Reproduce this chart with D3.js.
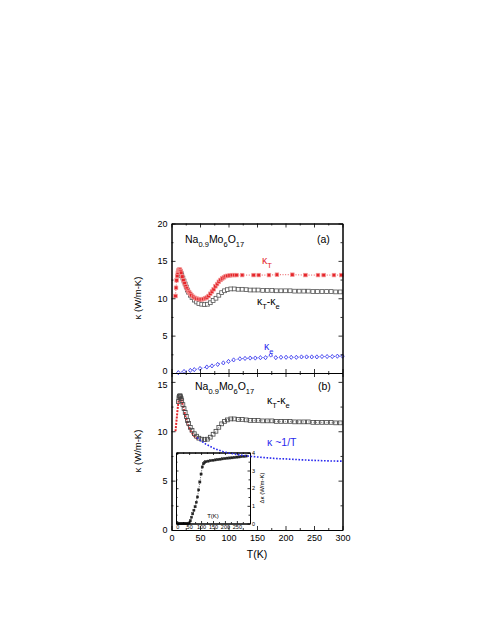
<!DOCTYPE html>
<html><head><meta charset="utf-8">
<script src="https://cdn.jsdelivr.net/npm/d3@7/dist/d3.min.js"></script>
<style>
body{margin:0;background:#fff}
svg{display:block}
text{font-family:"Liberation Sans",Arial,sans-serif;fill:#000}
</style>
</head><body>
<script>
// ---------- DATA ----------
// Panel (a): total thermal conductivity kappa_T (red filled squares)
const tKT = [7,8,9,10,11,12,13,14,15,16,17,19,21,23,25,27,29,31,33,35,38,41,44,47,50,53,56,59,62,65,68,71,74,77,80,83,86,89,92,95,98,102,106,110,114,124,144,153,171,185,212,235,257,267,285,298];
const kT  = [10.3,11.4,12.4,13.0,13.4,13.7,13.8,13.85,13.8,13.6,13.4,12.9,12.4,12.0,11.6,11.3,11.0,10.8,10.6,10.4,10.2,10.05,9.95,9.9,9.85,9.85,9.9,10.0,10.1,10.3,10.6,10.9,11.2,11.6,11.9,12.2,12.45,12.65,12.8,12.95,13.0,13.05,13.1,13.1,13.1,13.1,13.1,13.1,13.1,13.15,13.15,13.1,13.1,13.1,13.1,13.1];
// kappa_T - kappa_e (black open squares), used in both panels
const tKL = [12,13,14,15,16,17,18,20,22,24,26,28,30,33,36,40,44,48,53,58,63,68,73,78,83,88,93,98,104,110,117,124,131,138,145,152,160,168,176,184,192,200,208,216,224,232,240,248,256,264,272,280,288,296];
const kL  = [13.0,13.4,13.55,13.6,13.5,13.3,13.1,12.7,12.3,11.9,11.5,11.1,10.8,10.4,10.1,9.75,9.5,9.3,9.2,9.15,9.2,9.4,9.7,10.0,10.4,10.75,11.0,11.15,11.25,11.25,11.2,11.2,11.15,11.1,11.1,11.1,11.05,11.05,11.05,11.0,11.0,11.0,11.0,10.95,10.95,10.95,10.95,10.9,10.9,10.9,10.9,10.9,10.85,10.85];
// electronic part kappa_e (blue open diamonds)
const tKe = [12,22,33,40,50,62,71,81,91,100,109,120,129,138,147,156,165,174,183,192,201,210,219,228,237,246,255,264,273,282,291,300];
const kE  = [0.05,0.2,0.35,0.45,0.6,0.8,0.95,1.15,1.35,1.55,1.75,1.9,1.95,2.0,2.0,2.05,2.05,2.4,2.05,2.1,2.1,2.1,2.1,2.15,2.15,2.15,2.15,2.2,2.2,2.2,2.25,2.25];
// Panel (b): low-T red curve
const tRed = [7,8,9,10,11,12,13,14,15,16,17,18,20,22,24,26,28,30,33,36,40,44,48];
const kRed = [10.0,10.6,11.2,11.8,12.4,12.9,13.2,13.45,13.5,13.45,13.3,13.1,12.6,12.1,11.6,11.2,10.8,10.5,10.1,9.8,9.5,9.3,9.15];
// kappa ~ 1/T (blue dotted)
const tInv = [45,50,55,60,65,70,75,80,90,100,110,120,130,140,150,160,170,180,190,200,215,230,245,260,275,290,300];
const kInv = [9.35,9.1,8.9,8.7,8.55,8.4,8.25,8.15,7.95,7.8,7.7,7.6,7.52,7.45,7.4,7.35,7.3,7.25,7.22,7.2,7.15,7.1,7.06,7.03,7.0,6.98,6.97];
// Inset: delta kappa
const tIn = [5,10,15,20,25,30,35,40,45,50,55,60,65,70,75,80,85,90,95,100,105,110,115,120,130,140,150,160,170,180,190,200,210,220,230,240,250,260,270,280,290];
const dK  = [0,0,0,0,0,0,0,0,0,0.03,0.15,0.35,0.55,0.75,0.95,1.2,1.5,1.9,2.35,2.8,3.2,3.38,3.45,3.5,3.53,3.56,3.58,3.6,3.62,3.64,3.66,3.68,3.7,3.71,3.72,3.74,3.76,3.77,3.79,3.8,3.82];
// Tick labels
const xTicks = [0,50,100,150,200,250,300];
const yTicksA = [0,5,10,15,20];
const yTicksB = [0,5,10,15];
const xTicksIn = [0,50,100,150,200,250];
const yTicksIn = [0,1,2,3,4];

// ---------- DRAW ----------
const RED="#e5262b", BLUE="#2a2aee";
const svg = d3.select("body").append("svg").attr("width",491).attr("height",635);

const x  = d3.scaleLinear().domain([0,300]).range([171.5,342.5]);
const yA = d3.scaleLinear().domain([0,20]).range([373,223.5]);
const yB = d3.scaleLinear().domain([0,15.9]).range([530,373]);

function range(a,b,s){const r=[];for(let v=a;v<=b+1e-9;v+=s)r.push(+v.toFixed(4));return r;}

function frame(xs, ys, xMaj, xMin, yMaj, yMin, opt){
  const [x0,x1]=xs.range(), [y0,y1]=ys.range();
  const g = svg.append("g");
  const L=opt.len||4, l=opt.minLen||2;
  const mk=(axis,tr,vals,size,fmt,pad,fs)=>{
    const a = g.append("g").attr("transform",tr)
      .call(axis.tickValues(vals).tickSizeInner(-size).tickSizeOuter(0).tickPadding(pad||4).tickFormat(fmt||(()=>"")));
    a.selectAll("line").attr("stroke","#000").attr("stroke-width",0.8);
    a.select(".domain").attr("stroke","#000").attr("stroke-width",1);
    a.selectAll("text").style("font-size",(fs||9)+"px").style("font-family","'Liberation Sans',Arial,sans-serif").attr("fill","#000");
    return a;
  };
  const yl = opt.yRight
    ? mk(d3.axisRight(ys),`translate(${x1},0)`,yMaj,L,d3.format("d"),opt.yPad,opt.fs)
    : mk(d3.axisLeft(ys),`translate(${x0},0)`,yMaj,L,d3.format("d"),opt.yPad,opt.fs);
  if(opt.yRight) mk(d3.axisLeft(ys),`translate(${x0},0)`,yMaj,L);
  else mk(d3.axisRight(ys),`translate(${x1},0)`,yMaj,L);
  mk(d3.axisLeft(ys),`translate(${x0},0)`,yMin,l);
  mk(d3.axisRight(ys),`translate(${x1},0)`,yMin,l);
  mk(d3.axisBottom(xs),`translate(0,${y0})`,xMaj,L,opt.xLab?d3.format("d"):null,opt.xPad,opt.fs);
  mk(d3.axisBottom(xs),`translate(0,${y0})`,xMin,l);
  mk(d3.axisTop(xs),`translate(0,${y1})`,xMaj,L);
  mk(d3.axisTop(xs),`translate(0,${y1})`,xMin,l);
  return yl;
}

function dotted(xs,ys,T,V,color,dash,w){
  svg.append("path").datum(T.map((t,i)=>[t,V[i]]))
    .attr("d",d3.line().x(d=>xs(d[0])).y(d=>ys(d[1])))
    .attr("fill","none").attr("stroke",color).attr("stroke-width",w||0.8).attr("stroke-dasharray",dash||"1,1.6");
}
function squares(xs,ys,T,V,s,fill,stroke,sw){
  svg.append("g").selectAll("rect").data(T.map((t,i)=>[t,V[i]])).join("rect")
    .attr("x",d=>xs(d[0])-s/2).attr("y",d=>ys(d[1])-s/2).attr("width",s).attr("height",s)
    .attr("fill",fill).attr("stroke",stroke).attr("stroke-width",sw||0.8);
}
function diamonds(xs,ys,T,V,s,stroke){
  svg.append("g").selectAll("path").data(T.map((t,i)=>[t,V[i]])).join("path")
    .attr("d",d=>{const cx=xs(d[0]),cy=ys(d[1]);return `M${cx},${cy-s}L${cx+s*0.8},${cy}L${cx},${cy+s}L${cx-s*0.8},${cy}Z`;})
    .attr("fill","#fff").attr("stroke",stroke).attr("stroke-width",0.8);
}

// ---- Panel (a) ----
dotted(x,yA,tKe,kE,BLUE);
diamonds(x,yA,tKe,kE,2.1,BLUE);
dotted(x,yA,tKL,kL,"#555");
squares(x,yA,tKL,kL,3.8,"#fff","#555");
dotted(x,yA,tKT,kT,RED);
squares(x,yA,tKT,kT,3.6,RED,"#f49a9a",0.7);
const ylA = frame(x,yA,xTicks,range(25,275,50),yTicksA,range(2.5,17.5,5),{xLab:false});
ylA.selectAll(".tick text").filter(d=>d===0).attr("dy","0.05em");

// ---- Panel (b) ----
dotted(x,yB,tRed,kRed,RED,"2,1.2",2);
dotted(x,yB,tKL,kL,"#555");
squares(x,yB,tKL,kL,3.8,"none","#444");
const ylB = frame(x,yB,xTicks,range(25,275,50),yTicksB,range(2.5,12.5,5),{xLab:true,xPad:5});
ylB.selectAll(".tick text").filter(d=>d===15).attr("dy","0.62em");

// ---- Inset ----
const xi = d3.scaleLinear().domain([-5,305]).range([176,250]);
const yi = d3.scaleLinear().domain([0,4.02]).range([523.5,452.5]);
svg.append("rect").attr("x",176).attr("y",452.5).attr("width",74).attr("height",71).attr("fill","#fff");
dotted(xi,yi,tIn,dK,"#333","0.8,1");
squares(xi,yi,tIn,dK,2.2,"#222","#222",0.4);
frame(xi,yi,xTicksIn,range(25,275,50),yTicksIn,range(0.5,3.5,1),{xLab:true,yRight:true,len:2.5,minLen:1.5,fs:5.5,xPad:1.5,yPad:2});
svg.append("text").attr("x",213).attr("y",518).attr("text-anchor","middle").style("font-size","6px").text("T(K)");
svg.append("text").attr("transform","translate(263.5,488) rotate(-90)").attr("text-anchor","middle").style("font-size","6px").text("Δκ (W/m-K)");

// blue 1/T dotted line on top
dotted(x,yB,tInv,kInv,BLUE,"1.6,1.6",1.6);

// ---- Labels ----
function formula(xp,yp){
  const t=svg.append("text").attr("x",xp).attr("y",yp).style("font-size","10.5px");
  const parts=[["Na",0],["0.9",1],["Mo",0],["6",1],["O",0],["17",1]];
  let prev=0;
  parts.forEach(([s,sub])=>{
    const dy=(sub?3.5:0)-(prev?3.5:0); prev=sub;
    t.append("tspan").attr("dy",dy).style("font-size",sub?"7.5px":"10.5px").text(s);
  });
}
function kLabel(xp,yp,color,subs){
  const t=svg.append("text").attr("x",xp).attr("y",yp).style("font-size","10.5px").style("fill",color);
  subs.forEach(([s,sub],i)=>{
    t.append("tspan").attr("dy",i===0?0:(sub?3.5:-3.5)).style("font-size",sub?"7.5px":"10.5px").text(s);
  });
}
formula(185,243);
svg.append("text").attr("x",317).attr("y",243).style("font-size","10.5px").text("(a)");
kLabel(262,264,RED,[["κ",0],["T",1]]);
kLabel(257,305,"#000",[["κ",0],["T",1],["-κ",0],["e",1]]);
kLabel(264,350,BLUE,[["κ",0],["e",1]]);

formula(195,390);
svg.append("text").attr("x",318).attr("y",390).style("font-size","10.5px").text("(b)");
kLabel(267,404,"#000",[["κ",0],["T",1],["-κ",0],["e",1]]);
svg.append("text").attr("x",267).attr("y",446).style("font-size","10.5px").style("fill",BLUE).text("κ ~1/T");

// axis titles
svg.append("text").attr("transform","translate(141,298) rotate(-90)").attr("text-anchor","middle").style("font-size","9.5px").text("κ (W/m-K)");
svg.append("text").attr("transform","translate(141,451) rotate(-90)").attr("text-anchor","middle").style("font-size","9.5px").text("κ (W/m-K)");
svg.append("text").attr("x",257).attr("y",558).attr("text-anchor","middle").style("font-size","10.5px").text("T(K)");
</script>
</body></html>
